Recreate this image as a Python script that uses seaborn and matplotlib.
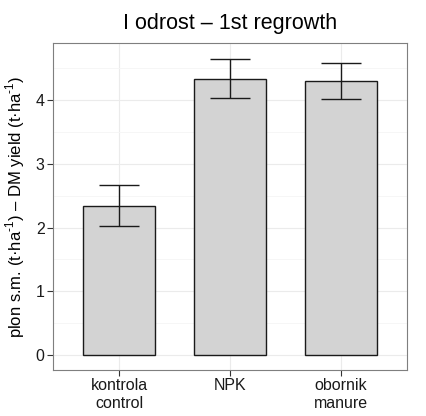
import matplotlib
matplotlib.use("Agg")
import matplotlib.pyplot as plt
import seaborn as sns
import pandas as pd
import numpy as np

categories = ["kontrola\ncontrol", "NPK", "obornik\nmanure"]
means = [2.34, 4.335, 4.295]
errors = [0.32, 0.31, 0.28]

sns.set_theme(style="whitegrid")
plt.rcParams['font.family'] = ['Liberation Sans', 'DejaVu Sans']
plt.rcParams['mathtext.fontset'] = 'custom'
plt.rcParams['mathtext.rm'] = 'Liberation Sans'

df = pd.DataFrame({"group": categories, "value": means})

fig = plt.figure(figsize=(4.27, 4.16), dpi=100)
ax = fig.add_axes([53/427, 1-370/416, (407-53)/427, (370-43)/416])

sns.barplot(data=df, x="group", y="value", ax=ax, color="#d3d3d3",
            edgecolor="#1a1a1a", linewidth=1.0, width=0.65, saturation=1, errorbar=None)
ax.errorbar(x=np.arange(len(categories)), y=means, yerr=errors, fmt="none",
            ecolor="#1a1a1a", elinewidth=1.0, capsize=14.5, capthick=1.0, zorder=5)

ax.set_xlim(-0.6, 2.6)
ax.set_ylim(-0.233, 4.893)
ax.set_yticks([0, 1, 2, 3, 4])
ax.set_yticks([0.5, 1.5, 2.5, 3.5, 4.5], minor=True)
ax.set_facecolor("white")
ax.grid(True, which="major", color="#ebebeb", linewidth=0.8)
ax.grid(True, which="minor", axis="y", color="#f5f5f5", linewidth=0.6)
ax.set_axisbelow(True)
for s in ax.spines.values():
    s.set_visible(True)
    s.set_color("#7f7f7f")
    s.set_linewidth(0.8)
ax.tick_params(axis="both", which="major", length=4, width=0.8, color="#333333",
               labelsize=11.5, labelcolor="#1a1a1a", direction="out", bottom=True, left=True, pad=2)
ax.tick_params(axis="y", which="minor", length=0, left=False)

ax.set_xlabel("")
ax.set_ylabel(r"plon s.m. (t·ha$^{\mathrm{\text{-}1}}$) – DM yield (t·ha$^{\mathrm{\text{-}1}}$)",
              fontsize=12, color="#000000", labelpad=6)
ax.set_title("I odrost – 1st regrowth", fontsize=15.5, color="#000000", pad=10)

fig.savefig("out.png", dpi=100)
